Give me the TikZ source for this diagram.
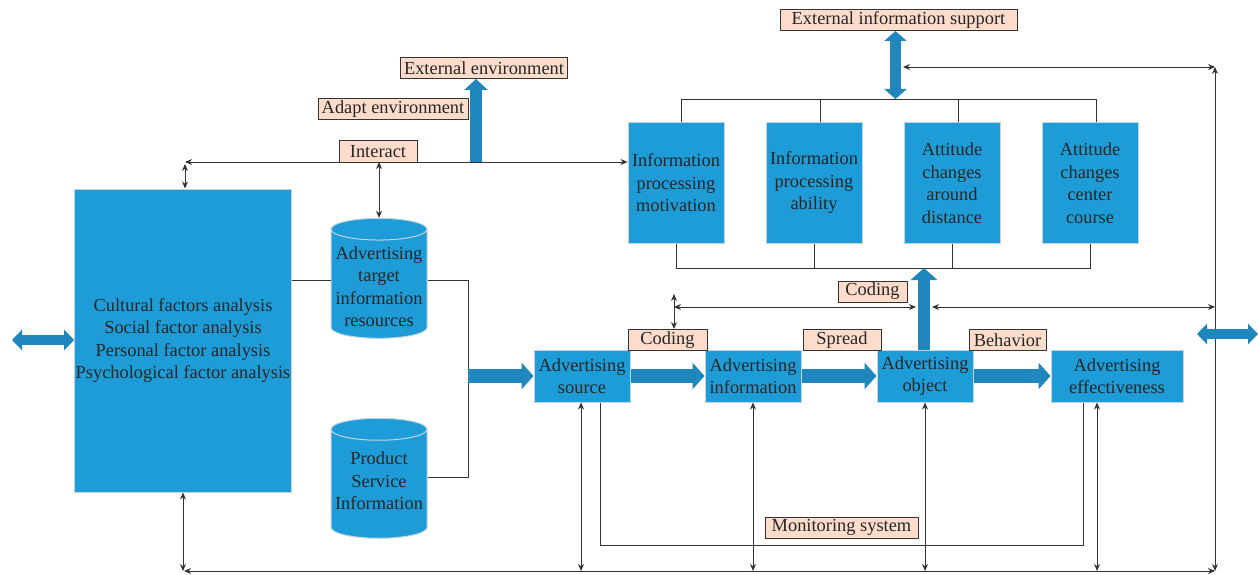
\documentclass[tikz,border=0pt]{standalone}
\usepackage{fontspec}
\setmainfont{Liberation Serif}
\usetikzlibrary{positioning, arrows.meta, shapes.geometric}

\definecolor{boxblue}{HTML}{1E9CD7}
\definecolor{arrblue}{HTML}{1F87BD}
\definecolor{lblpeach}{HTML}{FDDCCB}
\definecolor{lnegray}{HTML}{333333}
\definecolor{rimgray}{HTML}{C5D3DC}

\tikzset{
  blockbox/.style={draw=rimgray, line width=1pt, fill=boxblue, align=center, inner sep=1pt, text=black!85},
  lbl/.style={draw=lnegray, line width=1pt, fill=lblpeach, inner sep=0pt, minimum height=21pt, text=black!85},
  dbase/.style={cylinder, shape border rotate=90, aspect=0.25, draw=rimgray, line width=1pt, fill=boxblue,
    minimum width=96pt, minimum height=120pt, align=center, inner sep=0pt, text=black!85},
  link/.style={draw=lnegray, line width=0.9pt},
  fatarrow/.style={draw=arrblue, line width=14pt, -{Triangle[length=12pt,width=26pt]}},
  fatboth/.style={draw=arrblue, line width=11pt, {Triangle[length=10pt,width=22pt]}-{Triangle[length=10pt,width=22pt]}},
}

\begin{document}
\begin{tikzpicture}[x=1pt, y=-1pt, >={Stealth[length=7pt,width=6pt]}, font=\fontsize{18.4}{22.5}\selectfont]
\useasboundingbox (0,0) rectangle (1258,575);

% left part
\node[blockbox, minimum width=216pt, minimum height=303pt] (factors) at (183,340.5)
  {Cultural factors analysis\\Social factor analysis\\Personal factor analysis\\Psychological factor analysis};
\node[dbase] (res) at (379,284) {\\[-4pt]Advertising\\target\\information\\resources};
\node[dbase] (prod) at (379,484) {\\[-16pt]Product\\Service\\Information};

% process row
\node[blockbox, minimum width=96pt, minimum height=52pt] (src) at (582,376) {Advertising\\source};
\node[blockbox, minimum width=96pt, minimum height=52pt] (info) at (753,376) {Advertising\\information};
\node[blockbox, minimum width=96pt, minimum height=52pt] (obj) at (925,376) {Advertising\\object};
\node[blockbox, minimum width=132pt, minimum height=52pt] (eff) at (1117,376) {Advertising\\effectiveness};

% attitude boxes
\node[blockbox, minimum width=96pt, minimum height=120pt] (ipm) at (676,183) {Information\\processing\\motivation};
\node[blockbox, minimum width=96pt, minimum height=120pt] (ipa) at (814,183) {Information\\processing\\ability};
\node[blockbox, minimum width=96pt, minimum height=120pt] (acad) at (952,183) {Attitude\\changes\\around\\distance};
\node[blockbox, minimum width=96pt, minimum height=120pt] (accc) at (1090,183) {Attitude\\changes\\center\\course};

% labels
\node[lbl, minimum width=167pt] (extenv) at (484,68) {External environment};
\node[lbl, minimum width=150pt] (adapt) at (393,109.5) {Adapt environment};
\node[lbl, minimum width=78pt] (interact) at (378,151.5) {Interact};
\node[lbl, minimum width=237pt] (extinfo) at (898.5,20) {External information support};
\node[lbl, minimum width=69pt] (codup) at (872.5,291.5) {Coding};
\node[lbl, minimum width=79pt] (codlo) at (667.5,340) {Coding};
\node[lbl, minimum width=78pt] (spread) at (842,340) {Spread};
\node[lbl, minimum width=77pt] (behav) at (1007.5,340) {Behavior};
\node[lbl, minimum width=153pt] (monit) at (841.5,527.5) {Monitoring system};

% helper points
\coordinate (tl) at (185,162);
\coordinate (envfoot) at (476,162);
\coordinate (topbar) at (0,99);
\coordinate (botbar) at (0,268);
\coordinate (supline) at (903,67);
\coordinate (rtop) at (1215,67);
\coordinate (rbot) at (1215,571);
\coordinate (lbot) at (184,571);
\coordinate (codel) at (674,307);
\coordinate (codetop) at (674,294);
\coordinate (junc) at (468,376);
\coordinate (lfree) at (12,340);
\coordinate (rarrl) at (1197,334);
\coordinate (rarrr) at (1258,334);

% thin connectors
\draw[link,<->] (tl) -- (tl -| ipm.west);
\draw[link,<->] ([yshift=-2pt]tl) -- (tl |- factors.north);
\draw[link,<->] (res.north |- tl) -- (res.north);
\draw[link] ([yshift=4pt]res.west) -- ([yshift=4pt]res.west -| factors.east);
\draw[link] ([yshift=4pt]res.east) -- ([yshift=4pt]res.east -| junc) |- ([yshift=7pt]prod.east);

\draw[link] ([xshift=5pt]ipm.north) |- ([xshift=6pt]accc.north |- topbar) -- ([xshift=6pt]accc.north);
\draw[link] ([xshift=6pt]ipa.north) -- ([xshift=6pt]ipa.north |- topbar);
\draw[link] ([xshift=6pt]acad.north) -- ([xshift=6pt]acad.north |- topbar);
\draw[link] (ipm.south) |- (accc.south |- botbar) -- (accc.south);
\draw[link] (ipa.south) -- (ipa.south |- botbar);
\draw[link] (acad.south) -- (acad.south |- botbar);

\draw[link,<->] (supline) -- (rtop);
\draw[link,<->] (rtop) -- (rbot);
\draw[link,<->] (lbot) -- (rbot);
\draw[link,<->] (factors.south) -- (factors.south |- lbot);
\draw[link,<->] ([xshift=-1pt]src.south) -- ([xshift=-1pt]src.south |- lbot);
\draw[link,<->] (info.south) -- (info.south |- lbot);
\draw[link,<->] (obj.south) -- (obj.south |- lbot);
\draw[link,<->] ([xshift=-20pt]eff.south) -- ([xshift=-20pt]eff.south |- lbot);
\draw[link] ([xshift=18pt]src.south) -- ++(0,143) -| ([xshift=-34pt]eff.south);

\draw[link,<->] (codel) -- ([xshift=-9pt]obj.north |- codel);
\draw[link,<->] ([xshift=7pt]obj.north |- codel) -- (rtop |- codel);
\draw[link,<->] (codetop) -- (codetop |- codlo.north);

% fat arrows
\draw[fatarrow] (junc) -- (src.west);
\draw[fatarrow] (src.east) -- (info.west);
\draw[fatarrow] (info.east) -- (obj.west);
\draw[fatarrow] (obj.east) -- (eff.west);
\draw[fatarrow, line width=12pt] ([xshift=-1pt]obj.north) -- ([xshift=-1pt]obj.north |- botbar);
\draw[fatarrow, line width=12pt, -{Triangle[length=11pt,width=23pt]}] (envfoot) -- (envfoot |- extenv.south);
\draw[fatboth] ([xshift=-3pt]extinfo.south) -- ([xshift=-3pt]extinfo.south |- topbar);
\draw[fatboth, line width=10pt, {Triangle[length=10pt,width=20pt]}-{Triangle[length=10pt,width=20pt]}] (lfree) -- (factors.west |- lfree);
\draw[fatboth, line width=10pt, {Triangle[length=10pt,width=20pt]}-{Triangle[length=10pt,width=20pt]}] (rarrl) -- (rarrr);
\end{tikzpicture}
\end{document}
